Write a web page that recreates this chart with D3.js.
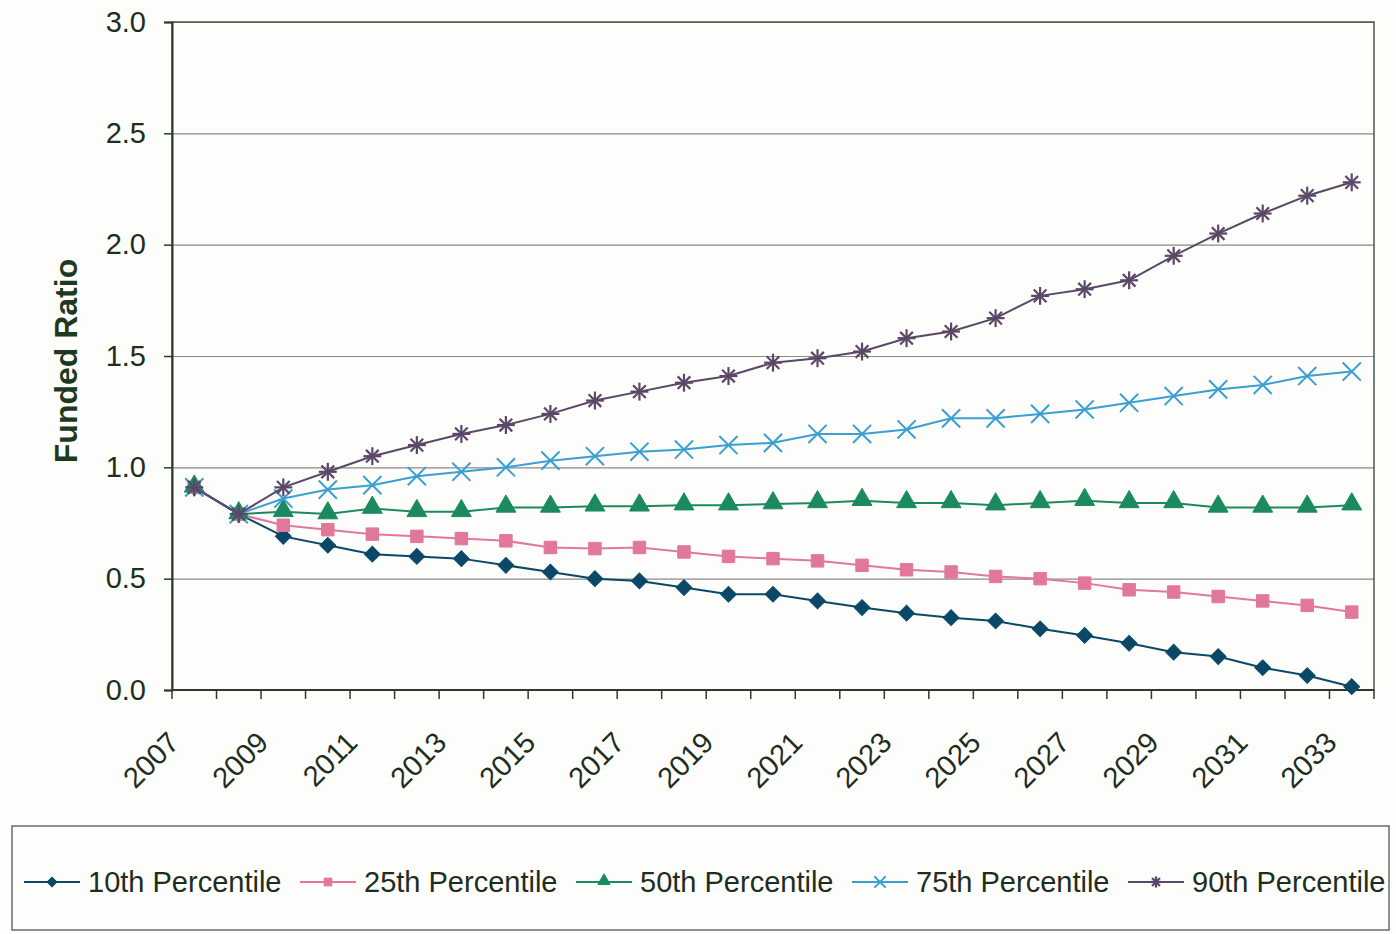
<!DOCTYPE html>
<html>
<head>
<meta charset="utf-8">
<script src="https://cdn.jsdelivr.net/npm/d3@7"></script>
<style>
  body { margin: 0; background: #fdfdfb; }
  svg { display: block; font-family: "Liberation Sans", Arial, sans-serif; }
</style>
</head>
<body>
<svg width="1396" height="934"></svg>
<script>
// years on the x axis
const years = d3.range(2007, 2034)
const yTicks = [0, 0.5, 1.0, 1.5, 2.0, 2.5, 3.0]

// funded ratio per percentile
const p10 = [0.91, 0.79, 0.69, 0.65, 0.61, 0.60, 0.59, 0.56, 0.53, 0.50, 0.49, 0.46, 0.43, 0.43, 0.40, 0.37, 0.345, 0.325, 0.31, 0.275, 0.245, 0.21, 0.17, 0.15, 0.10, 0.065, 0.015]
const p25 = [0.91, 0.79, 0.74, 0.72, 0.70, 0.69, 0.68, 0.67, 0.64, 0.635, 0.64, 0.62, 0.60, 0.59, 0.58, 0.56, 0.54, 0.53, 0.51, 0.50, 0.48, 0.45, 0.44, 0.42, 0.40, 0.38, 0.35]
const p50 = [0.91, 0.79, 0.80, 0.79, 0.815, 0.80, 0.80, 0.82, 0.82, 0.825, 0.825, 0.83, 0.83, 0.835, 0.84, 0.85, 0.84, 0.84, 0.83, 0.84, 0.85, 0.84, 0.84, 0.82, 0.82, 0.82, 0.83]
const p75 = [0.91, 0.79, 0.86, 0.90, 0.92, 0.96, 0.98, 1.00, 1.03, 1.05, 1.07, 1.08, 1.10, 1.11, 1.15, 1.15, 1.17, 1.22, 1.22, 1.24, 1.26, 1.29, 1.32, 1.35, 1.37, 1.41, 1.43]
const p90 = [0.91, 0.79, 0.91, 0.98, 1.05, 1.10, 1.15, 1.19, 1.24, 1.30, 1.34, 1.38, 1.41, 1.47, 1.49, 1.52, 1.58, 1.61, 1.67, 1.77, 1.80, 1.84, 1.95, 2.05, 2.14, 2.22, 2.28]

const seriesNames = ["10th Percentile", "25th Percentile", "50th Percentile", "75th Percentile", "90th Percentile"]
const seriesValues = [p10, p25, p50, p75, p90]
const seriesColors = ["#0b4868", "#e2779c", "#1b8a5e", "#3a9fd2", "#5a4866"]
const seriesSymbols = ["diamond", "square", "triangle", "cross", "star"]

const svg = d3.select('svg')
const margin = { top: 22, right: 22, bottom: 244, left: 172 }
const width = 1396 - margin.left - margin.right
const height = 934 - margin.top - margin.bottom
const textColor = '#1e2e1e'

const g = svg.append('g')
    .attr('transform', `translate(${margin.left}, ${margin.top})`)

const xBand = d3.scaleBand().domain(years).range([0, width])
const xCenter = d => xBand(d) + xBand.bandwidth() / 2
const yScale = d3.scaleLinear().domain([0, 3]).range([height, 0])

// gridlines
g.append('g')
    .call(d3.axisLeft(yScale).tickValues(yTicks).tickSize(-width).tickFormat(''))
    .call(a => a.select('.domain').remove())
    .selectAll('line')
    .attr('stroke', '#8a8a8a')
    .attr('stroke-width', 1.2)

// plot frame
g.append('rect')
    .attr('width', width)
    .attr('height', height)
    .attr('fill', 'none')
    .attr('stroke', '#4a5a4a')
    .attr('stroke-width', 1.5)

// y axis
const yAxis = g.append('g')
    .call(d3.axisLeft(yScale).tickValues(yTicks).tickSize(8).tickPadding(18).tickFormat(d3.format('.1f')))
yAxis.select('.domain').attr('stroke', '#2e3a2e').attr('stroke-width', 2)
yAxis.selectAll('line').attr('stroke', '#2e3a2e').attr('stroke-width', 1.5)
yAxis.selectAll('text')
    .attr('fill', textColor)
    .style('font-size', '29px')

// x axis ticks between categories
const xTickG = g.append('g').attr('transform', `translate(0, ${height})`)
xTickG.append('line')
    .attr('x1', 0).attr('x2', width)
    .attr('stroke', '#2e3a2e').attr('stroke-width', 2)
xTickG.selectAll('line.tick')
    .data(years.concat([null]))
    .enter().append('line')
    .attr('class', 'tick')
    .attr('x1', d => d === null ? width : xBand(d))
    .attr('x2', d => d === null ? width : xBand(d))
    .attr('y1', 0).attr('y2', 9)
    .attr('stroke', '#2e3a2e').attr('stroke-width', 1.5)

// x labels, every second year, rotated
const xAxis = g.append('g')
    .attr('transform', `translate(0, ${height})`)
    .call(d3.axisBottom(d3.scalePoint().domain(years).range([xCenter(years[0]), xCenter(years[years.length - 1])]))
        .tickValues(years.filter(y => (y - 2007) % 2 === 0))
        .tickSize(0))
xAxis.select('.domain').remove()
xAxis.selectAll('text')
    .attr('fill', textColor)
    .style('font-size', '29px')
    .style('text-anchor', 'end')
    .attr('dx', '0em')
    .attr('dy', '0.2em')
    .attr('transform', 'translate(-20, 48) rotate(-45)')

// y axis title
svg.append('text')
    .attr('transform', `translate(77, 361) rotate(-90)`)
    .attr('text-anchor', 'middle')
    .attr('fill', '#1e3a1e')
    .style('font-size', '32px')
    .style('font-weight', 'bold')
    .text('Funded Ratio')

// symbol helper
function symbolPath(kind, size) {
    if (kind === 'diamond') return d3.symbol().type(d3.symbolSquare).size(size * 0.8)()
    if (kind === 'square') return d3.symbol().type(d3.symbolSquare).size(size)()
    if (kind === 'triangle') return d3.symbol().type(d3.symbolTriangle).size(size * 1.1)()
    if (kind === 'cross') return d3.symbol().type(d3.symbolX).size(size * 1.4)()
    return null
}

function drawMarker(sel, kind, color, size) {
    if (kind === 'star') {
        const r = Math.sqrt(size) * 0.72
        const star = sel.append('g')
        ;[0, 45, 90, 135].forEach(a => {
            const t = a * Math.PI / 180
            star.append('line')
                .attr('x1', -r * Math.cos(t)).attr('y1', -r * Math.sin(t))
                .attr('x2', r * Math.cos(t)).attr('y2', r * Math.sin(t))
                .attr('stroke', color).attr('stroke-width', 2.2)
        })
        return
    }
    const p = sel.append('path').attr('d', symbolPath(kind, size))
    if (kind === 'cross') {
        p.attr('fill', 'none').attr('stroke', color).attr('stroke-width', 2)
    } else {
        p.attr('fill', color).attr('stroke', color).attr('stroke-width', 1)
        if (kind === 'diamond') p.attr('transform', 'rotate(45)')
        if (kind === 'triangle') p.attr('transform', 'translate(0, -1)')
    }
}

const line = d3.line()
    .x((d, i) => xCenter(years[i]))
    .y(d => yScale(d))

seriesValues.forEach((vals, k) => {
    const color = seriesColors[k]
    g.append('path')
        .datum(vals)
        .attr('d', line)
        .attr('fill', 'none')
        .attr('stroke', color)
        .attr('stroke-width', 2)
    g.selectAll(`.m${k}`)
        .data(vals)
        .enter().append('g')
        .attr('class', `m${k}`)
        .attr('transform', (d, i) => `translate(${xCenter(years[i])}, ${yScale(d)})`)
        .each(function () { drawMarker(d3.select(this), seriesSymbols[k], color, 155) })
})

// legend
const legend = svg.append('g')
legend.append('rect')
    .attr('x', 12).attr('y', 826)
    .attr('width', 1377).attr('height', 104)
    .attr('fill', 'none')
    .attr('stroke', '#6a6a6a')
    .attr('stroke-width', 1.5)

const items = legend.selectAll('.legend')
    .data(seriesNames)
    .enter().append('g')
    .attr('class', 'legend')
    .attr('transform', (d, i) => `translate(${24 + i * 276}, 882)`)
items.append('line')
    .attr('x1', 0).attr('x2', 56)
    .attr('stroke', (d, i) => seriesColors[i])
    .attr('stroke-width', 2)
items.append('g')
    .attr('transform', 'translate(28, 0)')
    .each(function (d, i) { drawMarker(d3.select(this), seriesSymbols[i], seriesColors[i], 60) })
items.append('text')
    .attr('x', 64)
    .attr('dy', '0.35em')
    .attr('fill', textColor)
    .style('font-size', '29px')
    .text(d => d)
</script>
</body>
</html>
